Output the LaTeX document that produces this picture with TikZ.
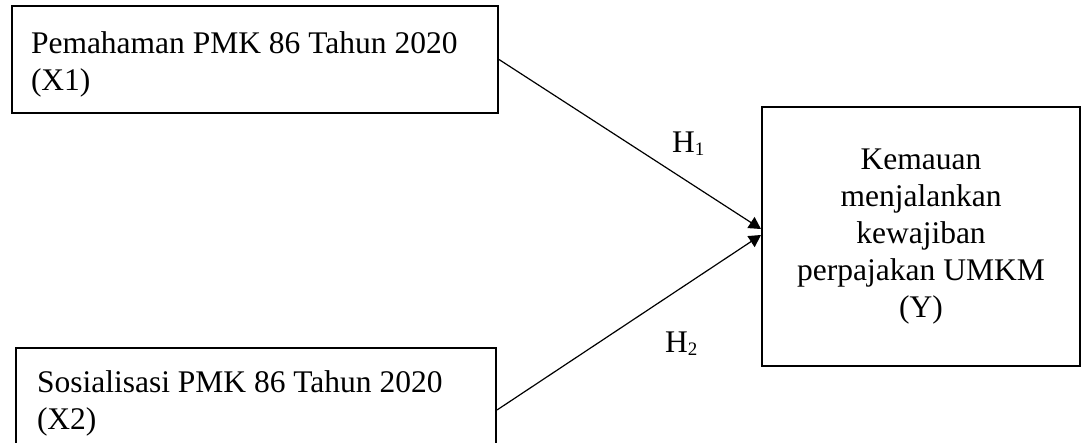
\documentclass[tikz,border=0pt]{standalone}
\usepackage{fontspec}
\setmainfont{Liberation Serif}
\usetikzlibrary{arrows.meta}
\tikzset{
  every node/.style={font=\fontsize{31.5}{37}\selectfont},
  varbox/.style={draw, line width=2pt, rectangle, inner ysep=0pt},
  link/.style={line width=1.2pt, -{Triangle[length=12pt,width=13pt]}},
  hyp/.style={anchor=base west, inner sep=0pt}
}
\newcommand{\hsub}[1]{{\fontsize{19}{19}\selectfont\raisebox{-3pt}{#1}}}
\newcommand{\topgap}[1]{\rule{0pt}{#1}}
\begin{document}
\begin{tikzpicture}[x=1pt, y=-1pt]
  \useasboundingbox (0,0) rectangle (1082,443);
  % independent variables
  \node[varbox, minimum width=486pt, minimum height=107pt, text width=448pt,
        inner xsep=19pt, align=flush left] (x1) at (255,59.5)
        {\topgap{32pt}Pemahaman PMK 86 Tahun 2020\\(X1)};
  \node[varbox, minimum width=480pt, minimum height=102pt, text width=438pt,
        inner xsep=21pt, align=flush left] (x2) at (256,399)
        {\topgap{30pt}Sosialisasi PMK 86 Tahun 2020\\(X2)};
  % dependent variable
  \node[varbox, minimum width=318pt, minimum height=259pt, text width=300pt,
        inner xsep=9pt, align=flush center] (y) at (921,236.5)
        {Kemauan\\menjalankan\\kewajiban\\perpajakan UMKM\\(Y)};
  % hypothesised effects
  \draw[link] (x1.east) -- ([yshift=7.5pt]y.west);
  \draw[link] ([yshift=-11pt]x2.east) -- ([yshift=1.5pt]y.west);
  \node[hyp] (h1) at (672,153) {H\hsub{1}};
  \node[hyp] (h2) at (665,353) {H\hsub{2}};
\end{tikzpicture}
\end{document}
